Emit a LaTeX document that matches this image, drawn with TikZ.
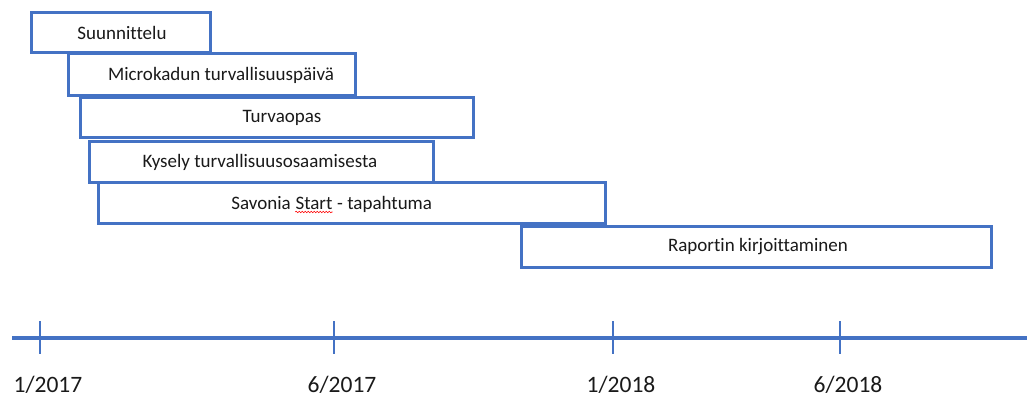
\documentclass[tikz,border=0pt]{standalone}
\usepackage{fontspec}
\setmainfont{Carlito}[Ligatures={NoCommon,NoRare,NoDiscretionary}]
\usetikzlibrary{decorations.pathmorphing}
\definecolor{obl}{HTML}{4472C4}
\definecolor{txt}{HTML}{1A1A1A}
\tikzset{
  bar/.style={draw=obl, line width=3pt, fill=white, rectangle, inner sep=0pt},
  bartext/.style={text=txt, font=\fontsize{19}{22}\selectfont, inner sep=0pt},
  tickmark/.style={draw=obl, line width=2.6pt},
  datelabel/.style={text=txt, font=\fontsize{23.5}{27}\selectfont, inner sep=0pt},
}
\begin{document}
\begin{tikzpicture}[x=1pt,y=-1pt]
\useasboundingbox (0,0) rectangle (1027,398);
% bars
\node[bar, minimum width=179pt, minimum height=40pt] (b1) at (120.5,33) {};
\node[bar, minimum width=287pt, minimum height=42pt] (b2) at (211.5,75) {};
\node[bar, minimum width=393pt, minimum height=40pt] (b3) at (276.5,118) {};
\node[bar, minimum width=344pt, minimum height=41pt] (b4) at (261,162.5) {};
\node[bar, minimum width=507pt, minimum height=40pt] (b5) at (351.5,203) {};
\node[bar, minimum width=470pt, minimum height=41pt] (b6) at (756.5,246.5) {};
% bar texts
\node[bartext] (t1) at (122,33) {Suunnittelu};
\node[bartext] (t2) at (221,75) {Microkadun turvallisuuspäivä};
\node[bartext] (t3) at (282,118) {Turvaopas};
\node[bartext] (t4) at (260,162.5) {Kysely turvallisuusosaamisesta};
\node[bartext, anchor=base] (st) at (314,209) {Start};
\node[bartext, anchor=base east] (t5a) at ([xshift=-4.3pt]st.base west) {Savonia};
\node[bartext, anchor=base west] (t5b) at ([xshift=4.3pt]st.base east) {- tapahtuma};
\draw[red, line width=0.6pt, decorate, decoration={snake, amplitude=0.8pt, segment length=3pt}]
  ([yshift=-3pt]st.base west) -- ([yshift=-3pt]st.base east);
\node[bartext] (t6) at (758,246.5) {Raportin kirjoittaminen};
% axis
\coordinate (a0) at (12,338);
\coordinate (a1) at (1027,338);
\draw[obl, line width=4pt] (a0) -- (a1);
\foreach \n/\x/\lab in {k1/40/1\slash 2017, k2/334/6\slash 2017, k3/613/1\slash 2018, k4/840/6\slash 2018}{
  \coordinate (\n top) at (\x,321);
  \coordinate (\n bot) at (\x,354);
  \draw[tickmark] (\n top) -- (\n bot);
  \node[datelabel, anchor=north] (\n lab) at (\x+8,376) {\lab};
}
\end{tikzpicture}
\end{document}
